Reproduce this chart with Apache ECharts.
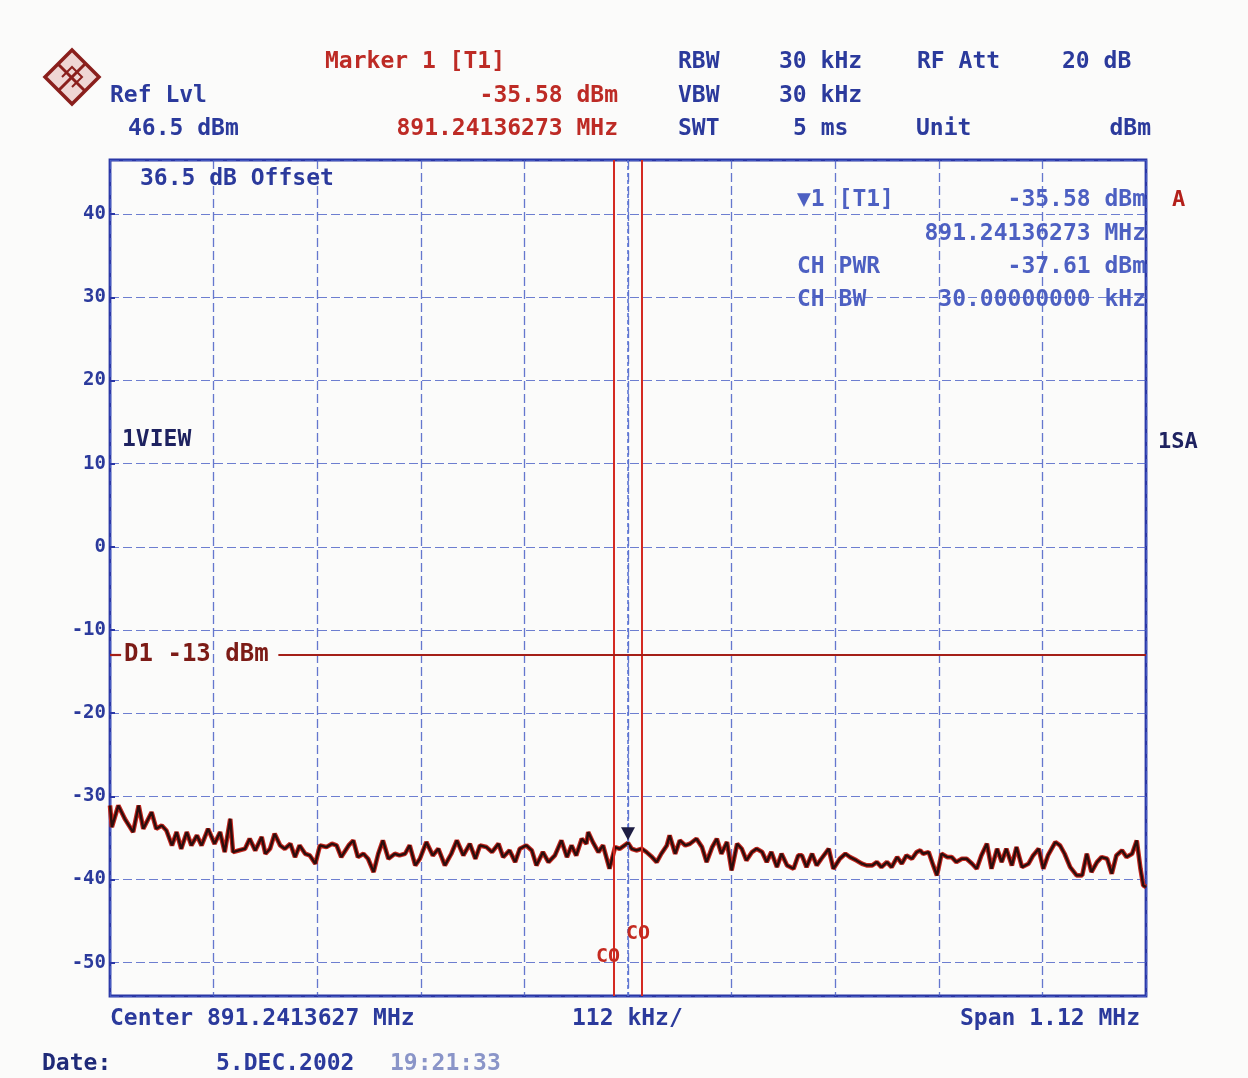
<!DOCTYPE html>
<html>
<head>
<meta charset="utf-8">
<title>Spectrum</title>
<script src="https://cdn.jsdelivr.net/npm/echarts@6/dist/echarts.min.js"></script>
<style>
html, body { margin: 0; padding: 0; background: #fbfbfa; }
#chart { width: 1248px; height: 1078px; }
</style>
</head>
<body>
<div id="chart"></div>
<script>
// frequency offset from centre (kHz), level (dBm)
var trace = [
  [-560,-31.1],[-558,-33.7],[-551,-31.1],[-544,-32.7],[-535,-34.3],[-529,-31.1],[-524,-33.9],[-515,-31.9],
  [-510,-33.9],[-504,-33.5],[-499,-34.1],[-493,-35.9],[-488,-34.3],[-483,-36.3],[-477,-34.3],[-472,-35.9],
  [-466,-34.7],[-461,-35.9],[-454,-33.9],[-447,-35.7],[-441,-34.3],[-436,-36.7],[-430,-32.7],[-427,-36.7],
  [-421,-36.5],[-414,-36.3],[-409,-35.1],[-403,-36.5],[-396,-34.9],[-392,-36.9],[-387,-36.3],[-382,-34.5],
  [-376,-35.9],[-371,-36.3],[-365,-35.7],[-360,-37.3],[-355,-35.9],[-349,-36.9],[-344,-37.1],[-338,-38.1],
  [-333,-35.9],[-326,-36.1],[-320,-35.7],[-315,-35.9],[-310,-37.3],[-302,-35.9],[-297,-35.3],[-292,-37.3],
  [-286,-36.9],[-281,-37.5],[-275,-39.1],[-270,-36.9],[-265,-35.3],[-259,-37.5],[-252,-36.9],[-247,-37.1],
  [-241,-36.9],[-236,-35.9],[-230,-38.3],[-225,-37.5],[-218,-35.5],[-211,-37.1],[-205,-36.3],[-198,-38.3],
  [-191,-36.9],
  [-185,-35.3],[-178,-37.1],[-171,-35.7],[-165,-37.5],[-160,-35.9],[-153,-36.1],[-147,-36.7],[-140,-35.7],
  [-135,-37.3],[-128,-36.5],[-122,-37.9],[-117,-36.3],[-110,-35.9],[-104,-36.5],[-99,-38.3],[-92,-36.7],
  [-86,-37.9],[-79,-37.1],[-72,-35.3],[-66,-37.3],[-61,-35.9],[-56,-37.1],[-50,-35.1],[-45,-35.7],
  [-43,-34.3],[-38,-35.5],[-32,-36.7],[-27,-35.9],[-20,-38.7],[-14,-36.1],[-9,-36.3],[0,-35.6],
  [4,-36.3],[9,-36.5],[15,-36.3],[20,-36.7],[26,-37.3],[31,-37.9],[36,-36.9],[42,-35.9],
  [45,-34.7],[51,-36.9],[56,-35.3],[62,-35.9],[67,-35.7],[74,-35.1],[80,-36.1],[85,-37.9],
  [91,-36.1],[96,-35.1],[101,-36.9],[107,-35.5],[112,-38.9],[118,-35.7],[123,-36.3],[128,-37.7],
  [134,-36.7],[139,-36.3],[145,-36.7],[150,-37.9],[155,-36.7],[161,-38.5],[166,-36.9],[172,-38.3],
  [179,-38.7],[184,-37.1],
  [188,-37.1],[193,-38.5],[199,-36.9],[204,-38.3],[209,-37.5],[217,-36.3],[222,-38.7],[229,-37.5],
  [235,-36.9],[240,-37.3],[247,-37.7],[253,-38.1],[258,-38.3],[264,-38.3],[269,-37.9],[274,-38.5],
  [280,-37.9],[285,-38.5],[291,-37.3],[296,-38.1],[301,-37.1],[307,-37.5],[312,-36.7],[316,-36.5],
  [319,-36.9],[325,-36.7],[330,-38.3],[334,-39.5],[339,-36.9],[345,-37.3],[350,-37.3],[355,-37.9],
  [361,-37.5],[366,-37.5],[372,-38.1],[377,-38.7],[382,-37.1],[388,-35.7],[393,-38.7],[399,-36.3],
  [404,-37.9],[409,-36.3],[415,-38.3],[420,-36.1],[426,-38.5],[433,-38.1],[438,-37.1],[444,-36.3],
  [449,-38.7],[454,-37.1],[462,-35.5],[467,-35.9],[472,-36.9],[478,-38.5],[485,-39.5],[491,-39.5],
  [496,-36.9],[501,-39.1],[507,-37.9],[512,-37.3],[518,-37.5],[523,-39.3],[528,-37.1],[534,-36.5],
  [539,-37.3],[545,-36.9],[550,-35.3],[554,-38.7],[557,-40.7],[560,-40.9]
]

var refLevel = 46.5
var bottomLevel = -54
var spanKHz = 1120
var divKHz = 112
var channelEdges = [-15, 15]   // CO lines (30 kHz channel bw)
var markerPos = [0, -35.58]
var displayLine = -13         // D1

var FONT = 'DejaVu Sans Mono'
var BLUE = '#2b3a9c'
var LBLUE = '#4d60c2'
var RED = '#bd2b25'
var DRED = '#7c1b16'

var chart = echarts.init(document.getElementById('chart'))

function txt(x, y, s, color, align, size) {
  return {
    type: 'text', x: x, y: y, z: 50, silent: true,
    style: {
      text: s, fill: color, align: align || 'left', verticalAlign: 'middle',
      font: 'bold ' + (size || 23) + 'px "' + FONT + '"'
    }
  }
}

var option = {
  backgroundColor: '#fbfbfa',
  animation: false,
  grid: {
    left: 110, right: 102, top: 160, bottom: 82,
    show: true, borderColor: '#2a37a6', borderWidth: 2.8
  },
  xAxis: {
    type: 'value',
    min: -spanKHz / 2, max: spanKHz / 2, interval: divKHz,
    axisLine: { show: false, onZero: false },
    axisTick: { show: false },
    axisLabel: { show: false },
    splitLine: { show: true, lineStyle: { color: '#4a5fc6', width: 1.3, type: [9, 4], opacity: 0.85 } }
  },
  yAxis: {
    type: 'value',
    min: bottomLevel, max: refLevel, splitNumber: 10,
    axisLine: { show: false, onZero: false },
    axisTick: { show: true, inside: true, length: 5, lineStyle: { color: '#2a37a6', width: 2 } },
    axisLabel: {
      color: BLUE, fontFamily: FONT, fontWeight: 'bold', fontSize: 19, margin: 4,
      showMinLabel: false, showMaxLabel: false,
      formatter: function (v) { return Number.isInteger(v) ? String(v) : '' }
    },
    splitLine: { show: true, lineStyle: { color: '#4a5fc6', width: 1.2, type: [9, 4], opacity: 0.8 } }
  },
  series: [
    {
      name: 'trace-halo',
      type: 'line',
      data: trace,
      showSymbol: false,
      silent: true,
      z: 3,
      lineStyle: { color: '#c4271e', width: 4.6 },
      markLine: {
        silent: true,
        symbol: ['none', 'none'],
        label: { show: false },
        data: [
          { xAxis: channelEdges[0], lineStyle: { color: '#d42a22', width: 2, type: 'solid' } },
          { xAxis: channelEdges[1], lineStyle: { color: '#d42a22', width: 2, type: 'solid' } },
          { xAxis: markerPos[0], lineStyle: { color: '#5a74d4', width: 1.6, type: [4, 3] } },
          [
            { coord: [-378, displayLine], lineStyle: { color: '#a41f18', width: 2.2, type: 'solid' } },
            { coord: [spanKHz / 2, displayLine] }
          ],
          [
            { coord: [-spanKHz / 2, displayLine], lineStyle: { color: '#a41f18', width: 2.2, type: 'solid' } },
            { coord: [-548, displayLine] }
          ]
        ]
      }
    },
    {
      name: 'trace',
      type: 'line',
      data: trace,
      showSymbol: false,
      silent: true,
      z: 4,
      lineStyle: { color: '#2c0d0c', width: 2.4 },
      markPoint: {
        silent: true,
        symbol: 'triangle',
        symbolRotate: 180,
        symbolSize: [14, 13],
        symbolOffset: [0, -9],
        itemStyle: { color: '#1d1d42' },
        label: { show: false },
        data: [{ coord: markerPos }]
      }
    }
  ]
}

chart.setOption(option)

var d1 = chart.convertToPixel({ gridIndex: 0 }, [-548, displayLine])
var coL = chart.convertToPixel({ gridIndex: 0 }, [channelEdges[0], -49.3])
var coR = chart.convertToPixel({ gridIndex: 0 }, [channelEdges[1], -46.5])

var graphics = [
  // R&S logo
  { type: 'polygon', silent: true, z: 50, shape: { points: [[72, 50], [99, 77], [72, 104], [45, 77]] },
    style: { fill: '#efd6d4', stroke: '#8a1f1c', lineWidth: 3.5 } },
  { type: 'polyline', silent: true, z: 51, shape: { points: [[58, 64], [85, 91]] }, style: { stroke: '#8a1f1c', lineWidth: 3 } },
  { type: 'polyline', silent: true, z: 51, shape: { points: [[85, 64], [58, 91]] }, style: { stroke: '#8a1f1c', lineWidth: 3 } },
  { type: 'polyline', silent: true, z: 51, shape: { points: [[62, 77], [72, 67], [82, 77], [72, 87]] }, style: { stroke: '#8a1f1c', lineWidth: 2 } },

  txt(325, 62, 'Marker 1 [T1]', RED),
  txt(110, 96, 'Ref Lvl', BLUE),
  txt(128, 129, '46.5 dBm', BLUE),
  txt(618, 96, '-35.58 dBm', RED, 'right'),
  txt(618, 129, '891.24136273 MHz', RED, 'right'),
  txt(678, 62, 'RBW', BLUE),
  txt(678, 96, 'VBW', BLUE),
  txt(678, 129, 'SWT', BLUE),
  txt(779, 62, '30 kHz', BLUE),
  txt(779, 96, '30 kHz', BLUE),
  txt(793, 129, '5 ms', BLUE),
  txt(917, 62, 'RF Att', BLUE),
  txt(916, 129, 'Unit', BLUE),
  txt(1062, 62, '20 dB', BLUE),
  txt(1151, 129, 'dBm', BLUE, 'right'),

  txt(140, 179, '36.5 dB Offset', BLUE),
  txt(122, 440, '1VIEW', '#1e2260'),
  txt(1158, 442, '1SA', '#1e2260', 'left', 22),
  txt(1172, 200, 'A', '#b3201a', 'left', 22),

  txt(797, 200, '\u25BC1 [T1]', LBLUE),
  txt(1146, 200, '-35.58 dBm', LBLUE, 'right'),
  txt(1146, 234, '891.24136273 MHz', LBLUE, 'right'),
  txt(797, 267, 'CH PWR', LBLUE),
  txt(1146, 267, '-37.61 dBm', LBLUE, 'right'),
  txt(797, 300, 'CH BW', LBLUE),
  txt(1146, 300, '30.00000000 kHz', LBLUE, 'right'),

  txt(110, 1019, 'Center 891.2413627 MHz', BLUE),
  txt(572, 1019, '112 kHz/', BLUE),
  txt(1140, 1019, 'Span 1.12 MHz', BLUE, 'right'),
  txt(42, 1064, 'Date:', '#1f2a78'),
  txt(216, 1064, '5.DEC.2002', BLUE),
  txt(390, 1064, '19:21:33', '#8a95c8'),

  txt(d1[0] + 3, d1[1], 'D1 -13 dBm', DRED, 'left', 24),
  txt(coL[0] + 6, coL[1], 'CO', '#c42a20', 'right', 20),
  txt(coR[0] - 16, coR[1], 'CO', '#c42a20', 'left', 20)
]

chart.setOption({ graphic: graphics })

window.onresize = function () {
  chart.resize()
}
</script>
</body>
</html>
